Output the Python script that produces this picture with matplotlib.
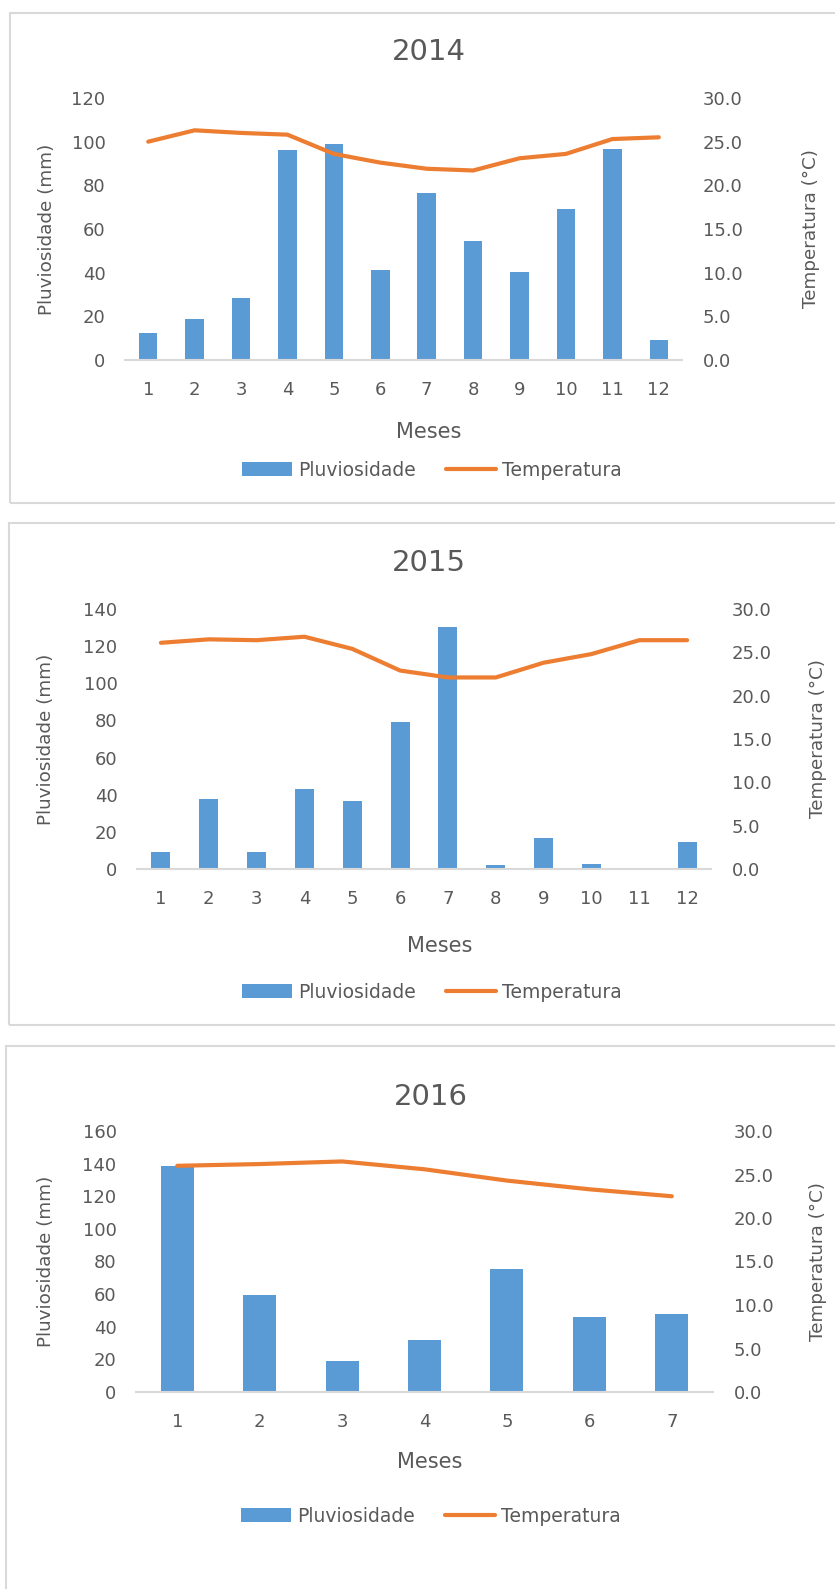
import matplotlib
matplotlib.use("Agg")
import matplotlib.pyplot as plt
from matplotlib.patches import Rectangle
from matplotlib.ticker import FormatStrFormatter

# ---------------- data ----------------
meses_2014 = [1, 2, 3, 4, 5, 6, 7, 8, 9, 10, 11, 12]
pluv_2014 = [12.3, 18.7, 28.2, 96.4, 98.8, 41.1, 76.4, 54.5, 40.5, 69.0, 96.8, 9.1]
temp_2014 = [25.0, 26.3, 26.0, 25.8, 23.6, 22.6, 21.9, 21.7, 23.1, 23.6, 25.3, 25.5]

meses_2015 = [1, 2, 3, 4, 5, 6, 7, 8, 9, 10, 11, 12]
pluv_2015 = [9.4, 37.6, 9.4, 43.2, 36.4, 79.2, 130.5, 2.0, 16.6, 2.7, 0.0, 14.8]
temp_2015 = [26.1, 26.5, 26.4, 26.8, 25.4, 22.9, 22.1, 22.1, 23.8, 24.8, 26.4, 26.4]

meses_2016 = [1, 2, 3, 4, 5, 6, 7]
pluv_2016 = [138.4, 59.6, 19.0, 32.0, 75.7, 46.1, 48.0]
temp_2016 = [26.0, 26.2, 26.5, 25.6, 24.3, 23.3, 22.5]

pluv_ticks_2014 = [0, 20, 40, 60, 80, 100, 120]
pluv_ticks_2015 = [0, 20, 40, 60, 80, 100, 120, 140]
pluv_ticks_2016 = [0, 20, 40, 60, 80, 100, 120, 140, 160]
temp_ticks = [0, 5, 10, 15, 20, 25, 30]

titles = ["2014", "2015", "2016"]
xlabel = "Meses"
ylabel_left = "Pluviosidade (mm)"
ylabel_right = "Temperatura (°C)"
legend_labels = ["Pluviosidade", "Temperatura"]

# ---------------- style ----------------
BLUE = "#5B9BD5"
ORANGE = "#ED7D31"
TXT = "#595959"
GRID = "#D9D9D9"

W, H = 835, 1589
fig = plt.figure(figsize=(W / 100, H / 100), dpi=100)
fig.patch.set_facecolor("white")


def fx(x):
    return x / W


def fy(y):
    return 1 - y / H


def panel(meses, pluv, temp, yticks, title, ax_box, border, title_xy,
          xlab_xy, ylab_l_x, ylab_r_x, leg_xy):
    bl, bt, br, bb = border
    fig.add_artist(Rectangle((fx(bl), fy(bb)), fx(br - bl), (bb - bt) / H,
                             transform=fig.transFigure, fill=False,
                             ec=GRID, lw=1.5, zorder=0))
    l, t, r, b = ax_box
    ax = fig.add_axes([fx(l), fy(b), fx(r - l), (b - t) / H])
    bars = ax.bar(meses, pluv, width=0.4, color=BLUE, zorder=2)
    ax.set_xlim(0.5, len(meses) + 0.5)
    ax.set_ylim(yticks[0], yticks[-1])
    ax.set_yticks(yticks)
    ax.set_xticks(meses)
    for s in ["top", "left", "right"]:
        ax.spines[s].set_visible(False)
    ax.spines["bottom"].set_color(GRID)
    ax.spines["bottom"].set_linewidth(1.5)
    ax.tick_params(length=0, colors=TXT, labelsize=13, pad=14)
    ax.tick_params(axis="x", pad=15)

    ax2 = ax.twinx()
    line, = ax2.plot(meses, temp, color=ORANGE, lw=3,
                     solid_joinstyle="round", solid_capstyle="round")
    ax2.set_ylim(temp_ticks[0], temp_ticks[-1])
    ax2.set_yticks(temp_ticks)
    ax2.yaxis.set_major_formatter(FormatStrFormatter("%.1f"))
    for s in ax2.spines.values():
        s.set_visible(False)
    ax2.tick_params(length=0, colors=TXT, labelsize=13, pad=15)

    ymid = fy((t + b) / 2)
    ax.set_ylabel(ylabel_left, fontsize=13.2, color=TXT, va="center", ha="center")
    ax.yaxis.set_label_coords(fx(ylab_l_x), ymid, transform=fig.transFigure)
    ax2.set_ylabel(ylabel_right, fontsize=13.2, color=TXT, va="center",
                   ha="center", rotation=90)
    ax2.yaxis.set_label_coords(fx(ylab_r_x), ymid, transform=fig.transFigure)

    ax.set_xlabel(xlabel, fontsize=15, color=TXT, va="center", ha="center")
    ax.xaxis.set_label_coords(fx(xlab_xy[0]), fy(xlab_xy[1]),
                              transform=fig.transFigure)

    fig.text(fx(title_xy[0]), fy(title_xy[1]), title, fontsize=21,
             color=TXT, ha="center", va="center")

    ax.legend([bars, line], legend_labels, loc="center",
              bbox_to_anchor=(fx(leg_xy[0]), fy(leg_xy[1])),
              bbox_transform=fig.transFigure, ncol=2, frameon=False,
              fontsize=13.5, handlelength=2.65, handletextpad=0.35,
              columnspacing=1.6, labelcolor=TXT, borderaxespad=0,
              borderpad=0)


panel(meses_2014, pluv_2014, temp_2014, pluv_ticks_2014, titles[0],
      (125, 98, 682, 360), (10, 13, 845, 503), (429, 52), (429, 432),
      47, 811, (432, 470))
panel(meses_2015, pluv_2015, temp_2015, pluv_ticks_2015, titles[1],
      (137, 609, 711, 869), (9, 523, 845, 1025), (429, 563), (440, 946),
      46, 818, (432, 992))
panel(meses_2016, pluv_2016, temp_2016, pluv_ticks_2016, titles[2],
      (136, 1131, 713, 1392), (6, 1046, 845, 1620), (431, 1097), (430, 1462),
      46, 818, (431, 1516))

fig.savefig("out.png", dpi=100, facecolor="white")
